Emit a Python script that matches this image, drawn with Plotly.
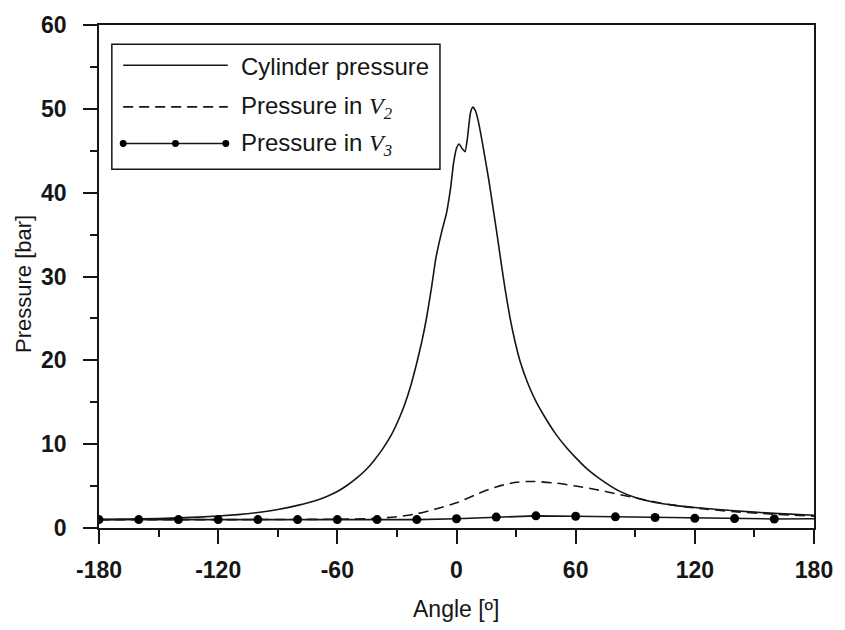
import plotly.graph_objects as go

# Crank angle [deg] and cylinder pressure [bar]
cyl_angle = [-180, -150, -130, -110, -100, -90, -80, -70, -65, -60, -55, -50, -45, -41.7,
             -37, -32.6, -29, -26, -23, -20.2, -17.5, -15.2, -12.5, -10.3, -7.5, -5, -3,
             -1.5, 0, 1.3, 3, 4.3, 5.5, 7, 8.2, 9.5, 11, 13, 16.2, 18, 20.3, 22.5, 24.4, 27,
             29.4, 32, 36, 40, 44.3, 50, 55, 60, 66, 72, 82, 90, 100, 110, 120, 140, 160, 180]
cyl_p = [1.0, 1.12, 1.3, 1.6, 1.85, 2.2, 2.7, 3.35, 3.8, 4.35, 5.1, 6.0, 7.1, 8.0,
         9.5, 11.2, 13.0, 14.8, 17.0, 19.5, 22.2, 24.9, 28.8, 32.3, 35.3, 37.6, 40.5,
         43.5, 45.3, 45.8, 45.2, 44.9, 46.5, 49.5, 50.2, 49.8, 48.5, 46.0, 41.6, 38.8, 35.2,
         31.6, 28.6, 25.0, 22.3, 19.9, 17.2, 15.1, 13.3, 11.2, 9.7, 8.4, 7.0, 5.9, 4.4, 3.65,
         3.05, 2.7, 2.45, 2.05, 1.75, 1.52]

# Pressure in volume V2 [bar]
v2_angle = [-180, -120, -60, -40, -30, -20, -10, 0, 10, 20, 30, 38, 50, 60, 70, 80, 90,
            100, 110, 120, 140, 160, 180]
v2_p = [1.0, 1.0, 1.05, 1.15, 1.35, 1.7, 2.3, 3.0, 4.0, 4.9, 5.45, 5.55, 5.35, 5.0, 4.6,
        4.1, 3.6, 3.1, 2.7, 2.4, 1.95, 1.65, 1.42]

# Pressure in volume V3 [bar], sampled every 20 deg
v3_angle = [-180, -160, -140, -120, -100, -80, -60, -40, -20, 0, 20, 40, 60, 80, 100,
            120, 140, 160, 180]
v3_p = [1.0, 1.0, 1.0, 1.0, 1.0, 1.0, 1.0, 1.0, 1.0, 1.1, 1.3, 1.45, 1.4, 1.33, 1.25,
        1.15, 1.12, 1.08, 1.1]

x_ticks = [-180, -120, -60, 0, 60, 120, 180]
y_ticks = [0, 10, 20, 30, 40, 50, 60]

legend_labels = [
    "Cylinder pressure",
    "Pressure in <span style='font-family:Liberation Serif'><i>V</i><sub><i>2</i></sub></span>",
    "Pressure in <span style='font-family:Liberation Serif'><i>V</i><sub><i>3</i></sub></span>",
]

INK = "#161616"
FONT = "Liberation Sans"
DASH = "10px,6px"

fig = go.Figure()

fig.add_trace(go.Scatter(x=cyl_angle, y=cyl_p, mode="lines",
                         line=dict(color=INK, width=1.6, shape="spline", smoothing=0.5),
                         showlegend=False))
fig.add_trace(go.Scatter(x=v2_angle, y=v2_p, mode="lines",
                         line=dict(color=INK, width=1.6, dash=DASH, shape="spline",
                                   smoothing=0.8),
                         showlegend=False))
# markers on every sample except the closing point at 180 deg
v3_sizes = [9] * (len(v3_angle) - 1) + [0]
fig.add_trace(go.Scatter(x=v3_angle, y=v3_p, mode="lines+markers",
                         line=dict(color=INK, width=1.6),
                         marker=dict(color="black", size=v3_sizes, opacity=1,
                                     line=dict(width=0)),
                         showlegend=False))

# plot-area geometry in pixels, used to lay out the hand-drawn legend
L, R, T, B = 98.5, 823, 21.5, 528.5


def px(xpix):
    return (xpix - L) / (R - L)


def py(ypix):
    return (B - ypix) / (B - T)


shapes = [dict(type="rect", xref="paper", yref="paper",
               x0=px(111.5), x1=px(444), y0=py(167), y1=py(41),
               line=dict(color=INK, width=1.5), fillcolor="white", layer="above")]
rows = [62, 104, 141]
styles = [None, DASH, None]
for ry, dash in zip(rows, styles):
    ln = dict(color=INK, width=1.6)
    if dash:
        ln["dash"] = dash
    shapes.append(dict(type="line", xref="paper", yref="paper",
                       x0=px(123), x1=px(229), y0=py(ry), y1=py(ry), line=ln))
for mx in (123, 176, 227):
    shapes.append(dict(type="circle", xref="paper", yref="paper",
                       x0=px(mx - 3.5), x1=px(mx + 3.5),
                       y0=py(rows[2] + 3.5), y1=py(rows[2] - 3.5),
                       fillcolor="black", line=dict(color="black", width=0)))

annotations = []
for ry, lab in zip(rows, legend_labels):
    annotations.append(dict(xref="paper", yref="paper", x=px(240), y=py(ry + 1),
                            xanchor="left", yanchor="middle", text=lab, showarrow=False,
                            font=dict(family=FONT, size=24, color=INK)))
annotations.append(dict(xref="paper", yref="paper", x=px(460), y=py(610),
                        xanchor="center", yanchor="middle", text="Angle [º]",
                        showarrow=False, font=dict(family=FONT, size=23, color=INK)))
annotations.append(dict(xref="paper", yref="paper", x=px(22), y=py(283),
                        xanchor="center", yanchor="middle", text="Pressure [bar]",
                        textangle=-90, showarrow=False,
                        font=dict(family=FONT, size=22, color=INK)))

axis_common = dict(showline=True, linecolor=INK, linewidth=1.5, mirror=True,
                   ticks="outside", ticklen=14, tickwidth=1.5, tickcolor=INK,
                   showgrid=False, zeroline=False,
                   tickfont=dict(family=FONT, size=23, color=INK, weight="bold"))

fig.update_layout(
    width=845, height=630,
    margin=dict(l=L, r=845 - R, t=T, b=630 - B),
    paper_bgcolor="white", plot_bgcolor="white",
    xaxis=dict(range=[-180, 180], tickvals=x_ticks, ticktext=[str(v) for v in x_ticks],
               minor=dict(tickvals=[-150, -90, -30, 30, 90, 150], ticklen=7,
                          ticks="outside", tickcolor=INK, tickwidth=1.5),
               ticklabelstandoff=7, **axis_common),
    yaxis=dict(range=[0, 60], tickvals=y_ticks, ticktext=[str(v) for v in y_ticks],
               minor=dict(tickvals=[5, 15, 25, 35, 45, 55], ticklen=7,
                          ticks="outside", tickcolor=INK, tickwidth=1.5),
               ticklabelstandoff=12, **axis_common),
    shapes=shapes,
    annotations=annotations,
)

fig.write_html("out.html")
